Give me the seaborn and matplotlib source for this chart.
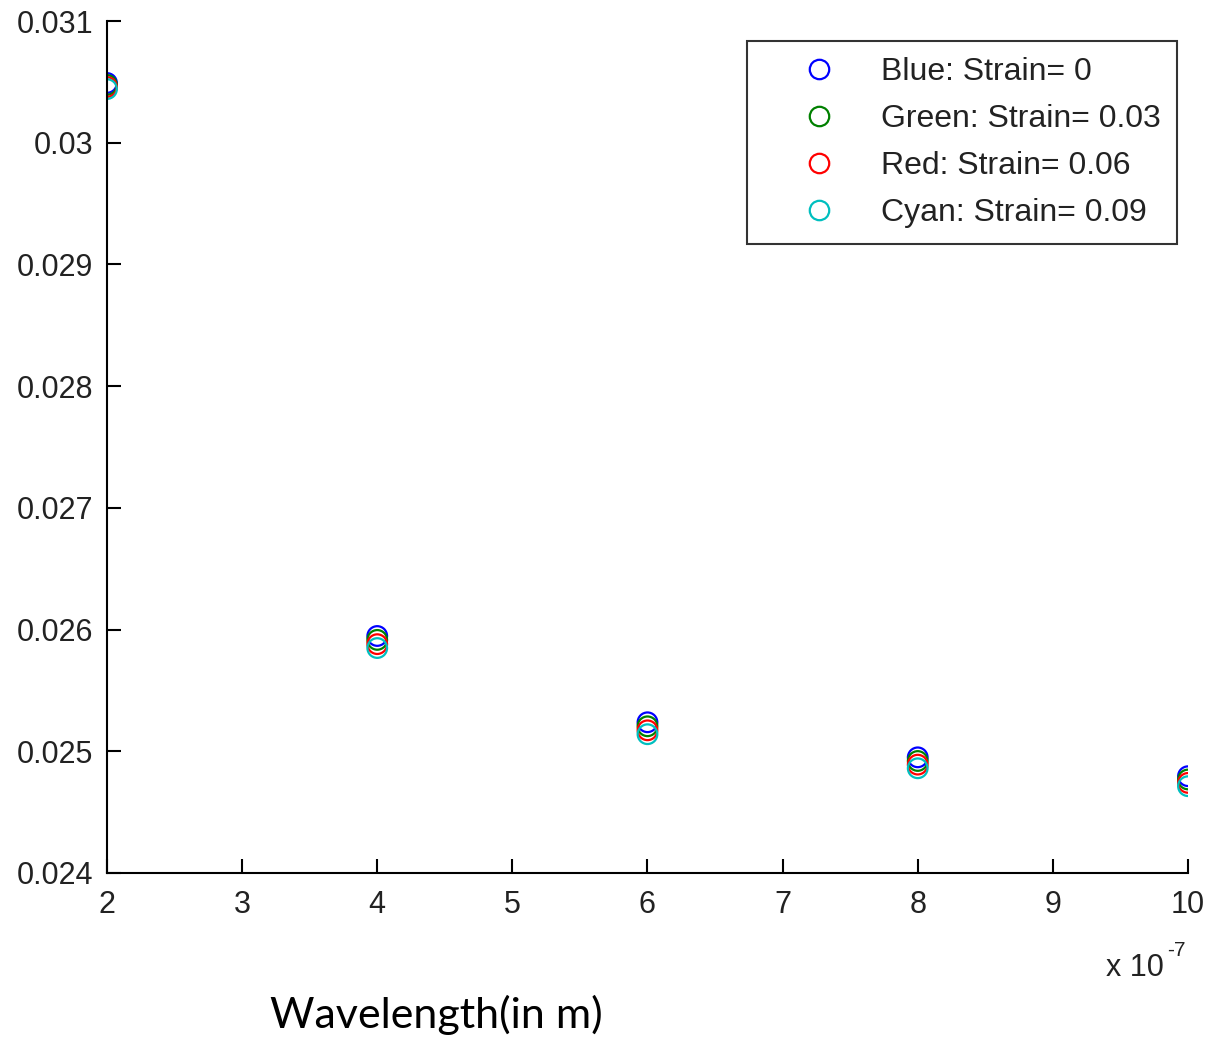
import numpy as np
import pandas as pd
import matplotlib
matplotlib.use("Agg")
import matplotlib.pyplot as plt
from matplotlib.lines import Line2D
import seaborn as sns

# Data
wavelength = [2e-7, 4e-7, 6e-7, 8e-7, 10e-7]
strain_labels = ["Blue: Strain= 0", "Green: Strain= 0.03", "Red: Strain= 0.06", "Cyan: Strain= 0.09"]
blue_vals = [0.030491, 0.025947, 0.025238, 0.024950, 0.024795]
green_vals = [0.030475, 0.025915, 0.025205, 0.024920, 0.024768]
red_vals = [0.030458, 0.025880, 0.025172, 0.024890, 0.024740]
cyan_vals = [0.030441, 0.025848, 0.025140, 0.024860, 0.024713]
colors = ["#0000ff", "#008000", "#ff0000", "#00bfbf"]

rows = []
for lab, vals in zip(strain_labels, [blue_vals, green_vals, red_vals, cyan_vals]):
    for w, v in zip(wavelength, vals):
        rows.append({"wl": w * 1e7, "val": v, "series": lab})
df = pd.DataFrame(rows)

sns.set_theme(style="white")
plt.rcParams['font.family'] = ['Liberation Sans', 'DejaVu Sans']

fig = plt.figure(figsize=(12.09, 10.37), dpi=100)
ax = fig.add_axes([0.0885, 0.1582, 0.8941, 0.8215])

sns.scatterplot(data=df, x="wl", y="val", hue="series", hue_order=strain_labels,
                palette=colors, s=200, marker="o", linewidth=1.6, legend=False, ax=ax)
for coll in ax.collections:
    fc = coll.get_facecolors()
    coll.set_edgecolors(fc)
    coll.set_facecolors("none")

ax.set_xlim(2, 10)
ax.set_ylim(0.024, 0.031)
ax.set_xticks([2, 3, 4, 5, 6, 7, 8, 9, 10])
ax.set_xticklabels([str(i) for i in range(2, 11)])
ax.set_yticks([0.024, 0.025, 0.026, 0.027, 0.028, 0.029, 0.030, 0.031])
ax.set_yticklabels(["0.024", "0.025", "0.026", "0.027", "0.028", "0.029", "0.03", "0.031"])
ax.set_xlabel("")
ax.set_ylabel("")
for s in ["top", "right"]:
    ax.spines[s].set_visible(False)
for s in ["left", "bottom"]:
    ax.spines[s].set_color("black")
    ax.spines[s].set_linewidth(1.5)
ax.tick_params(direction="in", length=10, width=1.5, colors="black",
               labelsize=22, labelcolor="#222222", left=True, bottom=True)
ax.tick_params(axis="x", pad=12)
ax.tick_params(axis="y", pad=10)

handles = [Line2D([], [], marker="o", linestyle="none", markerfacecolor="none",
                  markeredgecolor=c, markersize=14, markeredgewidth=1.6) for c in colors]
leg = ax.legend(handles, strain_labels, loc="upper right", bbox_to_anchor=(0.9898, 0.9765),
                borderaxespad=0, frameon=True, fancybox=False, edgecolor="black", fontsize=23,
                handletextpad=0.2, labelspacing=0.53, borderpad=0.5, handlelength=3.5)
leg.get_frame().set_linewidth(1.5)
for t in leg.get_texts():
    t.set_color("#222222")

fig.text(0.9145, 0.0665, "x 10", fontsize=22, color="#222222", ha="left", va="center")
fig.text(0.9655, 0.083, "-7", fontsize=15, color="#222222", ha="left", va="center")
fig.text(0.361, 0.021, "Wavelength(in m)", fontsize=31, family=["Lato", "DejaVu Sans"],
         ha="center", va="center", color="black")

fig.savefig("out.png", dpi=100)
